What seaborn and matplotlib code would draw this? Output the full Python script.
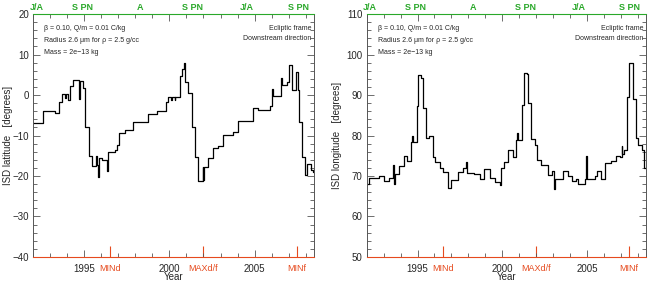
import matplotlib
matplotlib.use("Agg")
import matplotlib.pyplot as plt
import seaborn as sns

sns.set_style("ticks")
plt.rcParams["font.family"] = ["Liberation Sans", "DejaVu Sans"]

# step start years and values, ISD latitude (left panel)
lat_years = [1992.00, 1992.59, 1993.29, 1993.52, 1993.70, 1993.85, 1993.95, 1994.05, 1994.15,
             1994.35, 1994.70, 1994.74, 1994.93, 1995.05, 1995.28, 1995.46, 1995.69, 1995.78,
             1995.81, 1995.86, 1996.05, 1996.34, 1996.38, 1996.81, 1996.93, 1997.02, 1997.40,
             1997.87, 1998.74, 1999.27, 1999.80, 1999.92, 2000.10, 2000.14, 2000.30, 2000.34,
             2000.62, 2000.74, 2000.86, 2000.91, 2001.09, 2001.33, 2001.50, 2001.68, 2001.95,
             2002.00, 2002.04, 2002.26, 2002.56, 2002.85, 2003.14, 2003.73, 2004.02, 2004.90,
             2005.20, 2005.90, 2006.02, 2006.06, 2006.55, 2006.62, 2006.92, 2007.00, 2007.19,
             2007.42, 2007.52, 2007.60, 2007.78, 2007.95, 2008.07, 2008.30, 2008.40]
lat_vals = [-7.0, -3.9, -4.4, -1.6, 0.3, -0.8, 0.2, -1.3, 2.2,
            3.6, -1.0, 3.4, 1.8, -8.0, -15.0, -17.5, -15.0, -17.3,
            -20.2, -15.5, -16.0, -18.8, -14.0, -13.6, -12.3, -9.4, -8.6,
            -6.6, -4.6, -4.0, -1.8, -0.6, -1.3, -0.6, -1.2, -0.6,
            4.8, 6.5, 8.0, 3.2, 0.5, -7.9, -15.3, -21.2, -17.8,
            -21.0, -17.8, -15.6, -13.0, -12.5, -9.9, -9.2, -6.3, -3.3,
            -3.6, -2.8, 1.6, -0.3, 4.3, 2.4, 3.1, 7.4, 1.3,
            5.8, 1.3, -6.7, -15.3, -19.8, -17.0, -18.5, -19.0]

# step start years and values, ISD longitude (right panel)
lon_years = [1992.00, 1992.12, 1992.70, 1993.00, 1993.30, 1993.53, 1993.60, 1993.65, 1993.90,
             1994.18, 1994.35, 1994.60, 1994.70, 1994.75, 1994.95, 1995.05, 1995.18, 1995.35,
             1995.47, 1995.70, 1995.90, 1996.05, 1996.30, 1996.53, 1996.82, 1997.00, 1997.40,
             1997.70, 1997.88, 1997.93, 1998.35, 1998.70, 1998.95, 1999.30, 1999.60, 1999.85,
             1999.93, 2000.10, 2000.35, 2000.62, 2000.82, 2000.88, 2000.92, 2001.15, 2001.30,
             2001.45, 2001.50, 2001.70, 2001.95, 2002.05, 2002.30, 2002.50, 2002.70, 2002.95,
             2003.05, 2003.15, 2003.60, 2003.90, 2004.10, 2004.35, 2004.50, 2004.90, 2004.97,
             2005.00, 2005.50, 2005.60, 2005.85, 2006.10, 2006.40, 2006.70, 2006.95, 2007.06,
             2007.10, 2007.20, 2007.40, 2007.52, 2007.75, 2007.90, 2008.05, 2008.25, 2008.40]
lon_vals = [68.0, 69.5, 70.0, 68.8, 69.5, 72.7, 68.0, 70.5, 72.5,
            75.0, 73.7, 78.5, 80.0, 78.5, 87.2, 95.0, 94.2, 86.8,
            79.4, 79.8, 74.7, 73.5, 72.0, 71.0, 67.0, 69.0, 71.0,
            72.0, 73.5, 70.7, 70.5, 69.2, 71.6, 69.6, 68.6, 67.8,
            72.0, 73.5, 76.3, 74.7, 79.0, 80.5, 79.0, 87.5, 95.5,
            95.3, 88.0, 79.1, 77.6, 74.0, 72.8, 72.6, 70.3, 71.3,
            66.9, 69.2, 71.3, 70.0, 68.8, 69.2, 67.9, 69.3, 75.0,
            69.2, 70.0, 71.2, 69.3, 73.2, 73.7, 74.9, 74.6, 77.5,
            75.5, 76.5, 89.5, 98.0, 89.0, 79.4, 77.7, 76.5, 72.0]

year_end = 2008.5

# solar cycle markers (bottom) and polarity labels (top)
event_years = [1996.5, 2002.0, 2007.5]
event_labels = ["MINd", "MAXd/f", "MINf"]
top_years = [1992.2, 1994.9, 1998.3, 2001.35, 2004.55, 2007.55]
top_labels = ["J/A", "S PN", "A", "S PN", "J/A", "S PN"]

red = "#e64a1e"
green = "#2aa82a"

fig = plt.figure(figsize=(6.48, 2.82), dpi=100)
ax1 = fig.add_axes([0.051, 0.089, 0.434, 0.861])
ax2 = fig.add_axes([0.566, 0.089, 0.431, 0.861])

panels = [
    (ax1, lat_years, lat_vals, (-40, 20), "ISD latitude   [degrees]", -0.072),
    (ax2, lon_years, lon_vals, (50, 110), "ISD longitude   [degrees]", -0.088),
]

for ax, xs, ys, ylim, ylab, labx in panels:
    sns.lineplot(x=xs + [year_end], y=ys + [ys[-1]], drawstyle="steps-post",
                 color="black", lw=0.9, estimator=None, sort=False, ax=ax)
    ax.set_xlim(1992, year_end)
    ax.set_ylim(*ylim)
    ax.set_xticks([1995, 2000, 2005])
    ax.set_xticks(range(1992, 2009), minor=True)
    ax.set_yticks(range(ylim[0], ylim[1] + 1, 10))
    ax.set_yticks(range(ylim[0], ylim[1] + 1, 2), minor=True)
    ax.tick_params(which="both", direction="in", top=True, right=True,
                   labelsize=7, width=0.6, color="#555555", pad=3)
    ax.tick_params(which="major", length=5)
    ax.tick_params(which="minor", length=3)
    ax.tick_params(axis="x", pad=5)
    for s in ["left", "right"]:
        ax.spines[s].set_color("#555555")
        ax.spines[s].set_linewidth(0.7)
    ax.spines["bottom"].set_color(red)
    ax.spines["top"].set_color(green)
    ax.spines["bottom"].set_linewidth(0.8)
    ax.spines["top"].set_linewidth(0.8)
    ax.set_xlabel("Year", fontsize=7, labelpad=-1)
    ax.set_ylabel(ylab, fontsize=7)
    ax.yaxis.set_label_coords(labx, 0.5)

    # red event ticks on the bottom axis
    sec = ax.secondary_xaxis("bottom")
    sec.set_xticks(event_years)
    sec.set_xticklabels(event_labels)
    sec.spines["bottom"].set_visible(False)
    sec.tick_params(direction="in", length=8, width=0.8, color=red,
                    labelcolor=red, labelsize=6.5, pad=5)

    # green polarity labels on top
    top = ax.secondary_xaxis("top")
    top.set_xticks(top_years)
    top.set_xticklabels(top_labels, fontweight="bold")
    top.spines["top"].set_visible(False)
    top.tick_params(length=0, labelcolor=green, labelsize=6.5, pad=1.5)

    ax.text(0.04, 0.955, "\u03b2 = 0.10, Q/m = 0.01 C/kg", transform=ax.transAxes,
            fontsize=5, va="top", ha="left")
    ax.text(0.04, 0.905, "Radius 2.6 \u03bcm for \u03c1 = 2.5 g/cc", transform=ax.transAxes,
            fontsize=5, va="top", ha="left")
    ax.text(0.04, 0.855, "Mass = 2e\u221213 kg", transform=ax.transAxes,
            fontsize=5, va="top", ha="left")
    ax.text(0.99, 0.955, "Ecliptic frame", transform=ax.transAxes,
            fontsize=5, va="top", ha="right")
    ax.text(0.99, 0.915, "Downstream direction", transform=ax.transAxes,
            fontsize=5, va="top", ha="right")

fig.savefig("out.png", dpi=100)
